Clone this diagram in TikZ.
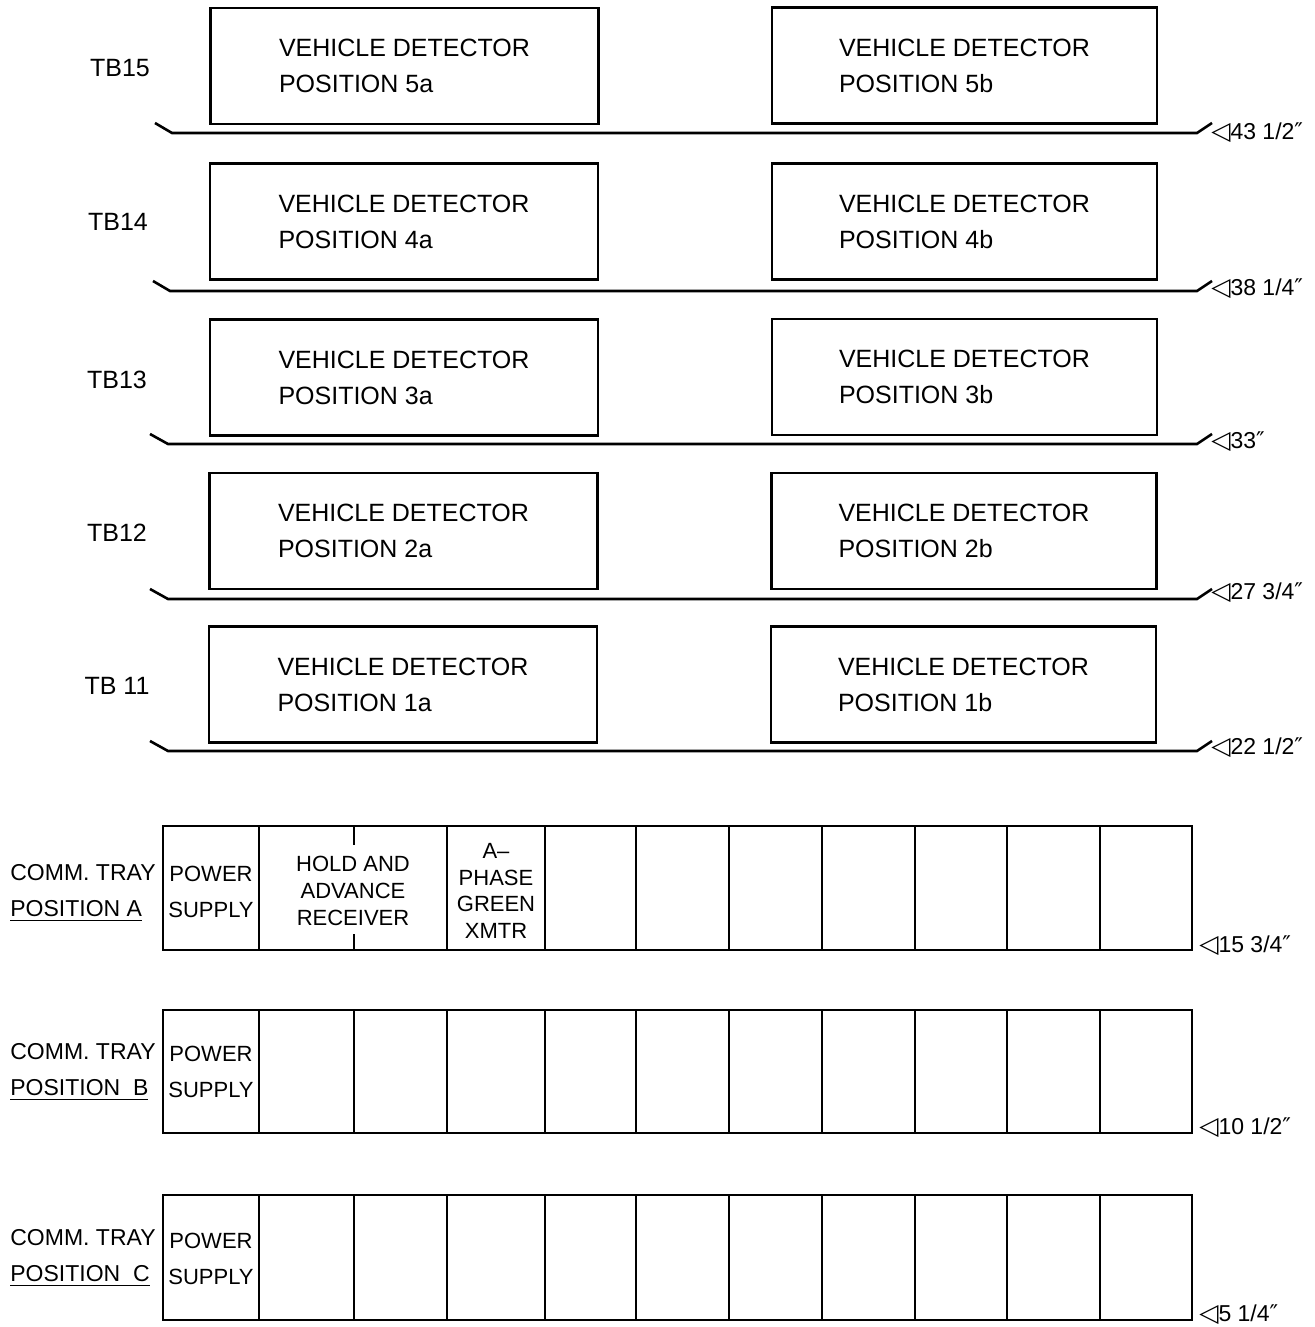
\documentclass[tikz,border=0pt]{standalone}
\usepackage{fontspec}
\setmainfont{Liberation Sans}
\newfontfamily\symfont{DejaVu Sans}
\newcommand{\lvmark}{{\symfont\fontsize{12.5}{12.5}\selectfont ◁}}
\newcommand{\inch}{{\symfont ″}}

\begin{document}
\begin{tikzpicture}[x=0.5pt,y=-0.5pt,line width=1.3pt,
	detector/.style={draw,minimum width=194pt,minimum height=58pt,inner sep=0pt,align=left,font=\fontsize{12.5}{18}\selectfont},
	tblabel/.style={inner sep=0pt,font=\fontsize{12.5}{15}\selectfont},
	level/.style={anchor=west,inner sep=0pt,font=\fontsize{11.5}{13}\selectfont},
	cell/.style={inner sep=0pt,align=center,font=\fontsize{11}{13.5}\selectfont},
	traylabel/.style={inner sep=0pt,align=left,font=\fontsize{11.5}{18}\selectfont}]
	\useasboundingbox (0,0) rectangle (1314,1327);
	
	%DETECTOR SHELVES
	\node[tblabel] (tb15) at (120,68) {TB15};
	\node[detector] (det5a) at (404.5,66) {VEHICLE DETECTOR\\POSITION 5a};
	\node[detector,minimum width=192.5pt] (det5b) at (964.5,65.5) {VEHICLE DETECTOR\\POSITION 5b};
	\node[level] (lv5) at (1210,133) {\lvmark43 1/2\inch};
	\draw (155,123) -- (172,133) -- (1197,133) -- (1212,123);
	%
	\node[tblabel] (tb14) at (118,222) {TB14};
	\node[detector] (det4a) at (404,221.5) {VEHICLE DETECTOR\\POSITION 4a};
	\node[detector,minimum width=192.5pt] (det4b) at (964.5,221.5) {VEHICLE DETECTOR\\POSITION 4b};
	\node[level] (lv4) at (1210,289) {\lvmark38 1/4\inch};
	\draw (153,281) -- (170,291) -- (1197,291) -- (1212,281);
	%
	\node[tblabel] (tb13) at (117,380) {TB13};
	\node[detector] (det3a) at (404,377.5) {VEHICLE DETECTOR\\POSITION 3a};
	\node[detector,minimum width=192.5pt] (det3b) at (964.5,377) {VEHICLE DETECTOR\\POSITION 3b};
	\node[level] (lv3) at (1210,442) {\lvmark33\inch};
	\draw (150,434) -- (168,444) -- (1197,444) -- (1212,434);
	%
	\node[tblabel] (tb12) at (117,533) {TB12};
	\node[detector] (det2a) at (403.5,531) {VEHICLE DETECTOR\\POSITION 2a};
	\node[detector,minimum width=192.5pt] (det2b) at (964,531) {VEHICLE DETECTOR\\POSITION 2b};
	\node[level] (lv2) at (1210,593) {\lvmark27 3/4\inch};
	\draw (150,589) -- (168,599) -- (1197,599) -- (1212,589);
	%
	\node[tblabel] (tb11) at (117,686) {TB 11};
	\node[detector] (det1a) at (403,684.5) {VEHICLE DETECTOR\\POSITION 1a};
	\node[detector,minimum width=192.5pt] (det1b) at (963.5,684.5) {VEHICLE DETECTOR\\POSITION 1b};
	\node[level] (lv1) at (1210,748) {\lvmark22 1/2\inch};
	\draw (150,741) -- (168,751) -- (1197,751) -- (1212,741);
	
	%COMM. TRAY A
	\draw (163,826) rectangle (1192,950);
	\draw (259,826) -- (259,950) (447,826) -- (447,950) (545,826) -- (545,950)
		(636,826) -- (636,950) (729,826) -- (729,950) (822,826) -- (822,950)
		(915,826) -- (915,950) (1007,826) -- (1007,950) (1100,826) -- (1100,950);
	\draw (354,826) -- (354,845) (354,934) -- (354,950);
	\node[traylabel] (trayA) at (83,893) {COMM. TRAY\\\underline{POSITION A}};
	\node[cell,font=\fontsize{11}{18}\selectfont] (psA) at (211,892) {POWER\\SUPPLY};
	\node[cell] (haA) at (353,891) {HOLD AND\\ADVANCE\\RECEIVER};
	\node[cell,font=\fontsize{11}{13.2}\selectfont] (apA) at (496,891) {A--\\PHASE\\GREEN\\XMTR};
	\node[level] (lvA) at (1198,946) {\lvmark15 3/4\inch};
	
	%COMM. TRAY B
	\draw (163,1010) rectangle (1192,1133);
	\draw (259,1010) -- (259,1133) (354,1010) -- (354,1133) (447,1010) -- (447,1133)
		(545,1010) -- (545,1133) (636,1010) -- (636,1133) (729,1010) -- (729,1133)
		(822,1010) -- (822,1133) (915,1010) -- (915,1133) (1007,1010) -- (1007,1133)
		(1100,1010) -- (1100,1133);
	\node[traylabel] (trayB) at (83,1072) {COMM. TRAY\\\underline{POSITION\ \ B}};
	\node[cell,font=\fontsize{11}{18}\selectfont] (psB) at (211,1072) {POWER\\SUPPLY};
	\node[level] (lvB) at (1198,1128) {\lvmark10 1/2\inch};
	
	%COMM. TRAY C
	\draw (163,1195) rectangle (1192,1320);
	\draw (259,1195) -- (259,1320) (354,1195) -- (354,1320) (447,1195) -- (447,1320)
		(545,1195) -- (545,1320) (636,1195) -- (636,1320) (729,1195) -- (729,1320)
		(822,1195) -- (822,1320) (915,1195) -- (915,1320) (1007,1195) -- (1007,1320)
		(1100,1195) -- (1100,1320);
	\node[traylabel] (trayC) at (83,1258) {COMM. TRAY\\\underline{POSITION\ \ C}};
	\node[cell,font=\fontsize{11}{18}\selectfont] (psC) at (211,1259) {POWER\\SUPPLY};
	\node[level] (lvC) at (1198,1315) {\lvmark5 1/4\inch};
\end{tikzpicture}
\end{document}
